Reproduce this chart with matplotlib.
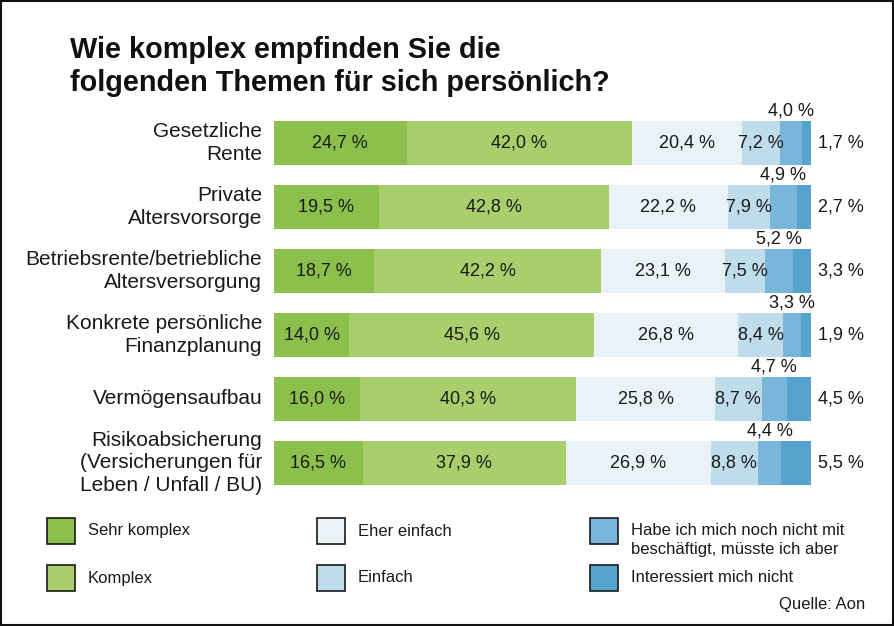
import matplotlib
matplotlib.use("Agg")
import matplotlib.pyplot as plt
from matplotlib.patches import Rectangle

plt.rcParams['font.family'] = ['Liberation Sans', 'DejaVu Sans']

categories = ["Gesetzliche\nRente", "Private\nAltersvorsorge",
              "Betriebsrente/betriebliche\nAltersversorgung",
              "Konkrete persönliche\nFinanzplanung", "Vermögensaufbau",
              "Risikoabsicherung\n(Versicherungen für\nLeben / Unfall / BU)"]
series_names = ["Sehr komplex", "Komplex", "Eher einfach", "Einfach",
                "Habe ich mich noch nicht mit\nbeschäftigt, müsste ich aber",
                "Interessiert mich nicht"]
sehr_komplex = [24.7, 19.5, 18.7, 14.0, 16.0, 16.5]
komplex = [42.0, 42.8, 42.2, 45.6, 40.3, 37.9]
eher_einfach = [20.4, 22.2, 23.1, 26.8, 25.8, 26.9]
einfach = [7.2, 7.9, 7.5, 8.4, 8.7, 8.8]
noch_nicht = [4.0, 4.9, 5.2, 3.3, 4.7, 4.4]
interessiert_nicht = [1.7, 2.7, 3.3, 1.9, 4.5, 5.5]

colors = ["#8bc04c", "#a9cf6d", "#e8f2f7", "#bedcea", "#7ab6db", "#55a4d0"]
series = [sehr_komplex, komplex, eher_einfach, einfach, noch_nicht, interessiert_nicht]

W, H = 894, 626
fig = plt.figure(figsize=(W / 100, H / 100), dpi=100)
fig.patch.set_facecolor("white")

ax_l, ax_r = 274, 811
ax_t, ax_b = 111, 495
ax = fig.add_axes([ax_l / W, 1 - ax_b / H, (ax_r - ax_l) / W, (ax_b - ax_t) / H])
ax.set_xlim(0, 100)
ax.set_ylim(len(categories) - 0.5, -0.5)
ax.axis("off")

bar_h = 0.69
fs = 13
tc = "#1a1a1a"
for i, cat in enumerate(categories):
    left = 0
    for k, vals in enumerate(series):
        v = vals[i]
        ax.barh(i, v, left=left, height=bar_h, color=colors[k], edgecolor="none")
        lab = f"{v:.1f}".replace(".", ",") + " %"
        c = left + v / 2
        if k <= 3:
            ax.text(c, i, lab, ha="center", va="center", fontsize=fs, color=tc)
        elif k == 4:
            ax.text(c, i - bar_h / 2 - 0.03, lab, ha="center", va="bottom", fontsize=fs, color=tc)
        else:
            ax.text(101.3, i, lab, ha="left", va="center", fontsize=fs, color=tc)
        left += v
    ax.text(-2.2, i, cat, ha="right", va="center", fontsize=15, color=tc,
            linespacing=1.22)

fig.text(70 / W, 1 - 36 / H, "Wie komplex empfinden Sie die\nfolgenden Themen für sich persönlich?",
         ha="left", va="top", fontsize=20.8, fontweight="bold", color="#111111",
         linespacing=1.22)

# Legend
leg_cols = [47, 317, 590]
leg_rows = [531, 578]
order = [(0, 0), (1, 0), (0, 1), (1, 1), (0, 2), (1, 2)]
for k, (r, c) in enumerate(order):
    x0 = leg_cols[c]
    yc = leg_rows[r]
    fig.patches.append(Rectangle((x0 / W, 1 - (yc + 13) / H), 28 / W, 26 / H,
                                 transform=fig.transFigure, facecolor=colors[k],
                                 edgecolor=tc, linewidth=1.2))
    ty = yc + (9 if k == 4 else 0)
    fig.text((x0 + 41) / W, 1 - ty / H, series_names[k], ha="left", va="center",
             fontsize=12, color=tc, linespacing=1.3)

fig.text(865 / W, 1 - 605 / H, "Quelle: Aon", ha="right", va="center", fontsize=12, color=tc)

fig.patches.append(Rectangle((1 / W, 1 / H), (W - 2) / W, (H - 2) / H, transform=fig.transFigure,
                             facecolor="none", edgecolor="#111111", linewidth=1.5))

fig.savefig("out.png", dpi=100)
